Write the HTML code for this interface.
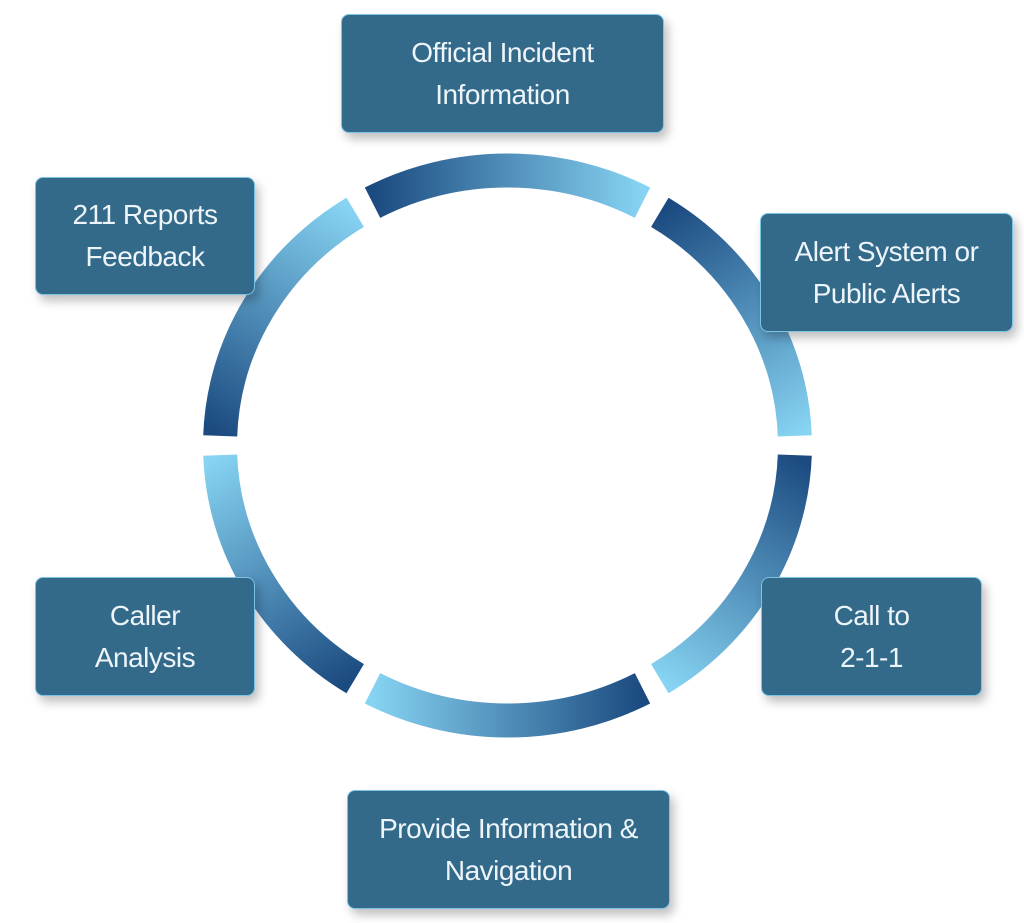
<!DOCTYPE html>
<html><head><meta charset="utf-8"><style>
html,body{margin:0;padding:0;background:#fff;}
body{width:1024px;height:923px;position:relative;overflow:hidden;font-family:"Liberation Sans",sans-serif;}
svg{position:absolute;left:0;top:0;}
.b{position:absolute;background:#336a8a;border:1px solid #7cc3e6;border-radius:8px;box-shadow:4px 6px 10px rgba(0,0,0,0.25);color:#eef5fa;font-size:28px;letter-spacing:-0.5px;line-height:42px;text-align:center;display:flex;align-items:center;justify-content:center;box-sizing:border-box;}
</style></head><body>
<svg width="1024" height="923" viewBox="0 0 1024 923">
<defs>
<linearGradient id="g1" gradientUnits="userSpaceOnUse" x1="372.5" y1="202.7" x2="642.5" y2="202.7"><stop offset="0" stop-color="#1b4a80"/><stop offset="1" stop-color="#86d3f2"/></linearGradient>
<linearGradient id="g2" gradientUnits="userSpaceOnUse" x1="659.8" y1="212.3" x2="794.8" y2="435.9"><stop offset="0" stop-color="#1b4a80"/><stop offset="1" stop-color="#86d3f2"/></linearGradient>
<linearGradient id="g3" gradientUnits="userSpaceOnUse" x1="794.8" y1="455.1" x2="659.8" y2="678.7"><stop offset="0" stop-color="#1b4a80"/><stop offset="1" stop-color="#86d3f2"/></linearGradient>
<linearGradient id="g4" gradientUnits="userSpaceOnUse" x1="642.5" y1="688.3" x2="372.5" y2="688.3"><stop offset="0" stop-color="#1b4a80"/><stop offset="1" stop-color="#86d3f2"/></linearGradient>
<linearGradient id="g5" gradientUnits="userSpaceOnUse" x1="355.2" y1="678.7" x2="220.2" y2="455.1"><stop offset="0" stop-color="#1b4a80"/><stop offset="1" stop-color="#86d3f2"/></linearGradient>
<linearGradient id="g6" gradientUnits="userSpaceOnUse" x1="220.2" y1="435.9" x2="355.2" y2="212.3"><stop offset="0" stop-color="#1b4a80"/><stop offset="1" stop-color="#86d3f2"/></linearGradient>
</defs>
<g fill="none" stroke-width="34" stroke-linecap="butt">
<path d="M372.5 202.7 A287.5 275 0 0 1 642.5 202.7" stroke="url(#g1)"/>
<path d="M659.8 212.3 A287.5 275 0 0 1 794.8 435.9" stroke="url(#g2)"/>
<path d="M794.8 455.1 A287.5 275 0 0 1 659.8 678.7" stroke="url(#g3)"/>
<path d="M642.5 688.3 A287.5 275 0 0 1 372.5 688.3" stroke="url(#g4)"/>
<path d="M355.2 678.7 A287.5 275 0 0 1 220.2 455.1" stroke="url(#g5)"/>
<path d="M220.2 435.9 A287.5 275 0 0 1 355.2 212.3" stroke="url(#g6)"/>
</g>
</svg>
<div class="b" style="left:341px;top:14px;width:323px;height:119px;">Official Incident<br>Information</div>
<div class="b" style="left:760px;top:213px;width:253px;height:119px;">Alert System or<br>Public Alerts</div>
<div class="b" style="left:35px;top:177px;width:220px;height:118px;">211 Reports<br>Feedback</div>
<div class="b" style="left:761px;top:577px;width:221px;height:119px;">Call to<br>2-1-1</div>
<div class="b" style="left:35px;top:577px;width:220px;height:119px;">Caller<br>Analysis</div>
<div class="b" style="left:347px;top:790px;width:323px;height:119px;">Provide Information &amp;<br>Navigation</div>
</body></html>
